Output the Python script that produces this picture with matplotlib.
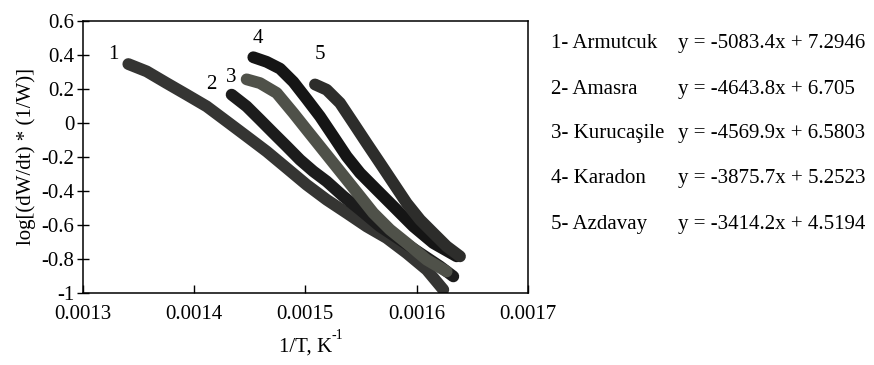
import matplotlib.pyplot as plt

# 1/T (K^-1) and log[(dW/dt)*(1/W)] traced along each coal's band
x1 = [0.001341, 0.0013575, 0.0013754, 0.0013934, 0.0014114, 0.0014294, 0.0014473, 0.0014653,
      0.0014833, 0.0015012, 0.0015192, 0.0015372, 0.0015551, 0.0015731, 0.0015911, 0.0016091, 0.001624]
y1 = [0.345, 0.302, 0.233, 0.165, 0.096, 0.008, -0.080, -0.169,
      -0.267, -0.365, -0.453, -0.531, -0.610, -0.678, -0.767, -0.865, -0.982]

x2 = [0.0014338, 0.0014473, 0.0014593, 0.0014713, 0.0014833, 0.0014952, 0.0015072, 0.0015192,
      0.0015342, 0.0015492, 0.0015671, 0.0015851, 0.0016031, 0.001621, 0.001633]
y2 = [0.165, 0.096, 0.018, -0.061, -0.139, -0.218, -0.286, -0.345,
      -0.433, -0.512, -0.610, -0.688, -0.767, -0.845, -0.904]

x3 = [0.0014473, 0.0014593, 0.0014743, 0.0014893, 0.0015012, 0.0015132, 0.0015252, 0.0015372,
      0.0015492, 0.0015611, 0.0015761, 0.0015911, 0.0016091, 0.001627]
y3 = [0.255, 0.233, 0.175, 0.057, -0.041, -0.139, -0.237, -0.335,
      -0.433, -0.531, -0.629, -0.708, -0.806, -0.875]

x4 = [0.0014533, 0.0014653, 0.0014773, 0.0014893, 0.0015012, 0.0015132, 0.0015252, 0.0015372,
      0.0015492, 0.0015641, 0.0015791, 0.0015971, 0.001615, 0.001636]
y4 = [0.385, 0.358, 0.318, 0.240, 0.140, 0.037, -0.080, -0.198,
      -0.296, -0.394, -0.492, -0.610, -0.708, -0.786]

x5 = [0.0015087, 0.0015192, 0.0015312, 0.0015432, 0.0015551, 0.0015671, 0.0015791, 0.0015911,
      0.0016031, 0.001615, 0.001627, 0.001639]
y5 = [0.225, 0.194, 0.116, -0.002, -0.120, -0.237, -0.355, -0.473,
      -0.571, -0.649, -0.727, -0.786]

names = ["1- Armutcuk", "2- Amasra", "3- Kurucaşile", "4- Karadon", "5- Azdavay"]
equations = ["y = -5083.4x + 7.2946", "y = -4643.8x + 6.705", "y = -4569.9x + 6.5803",
             "y = -3875.7x + 5.2523", "y = -3414.2x + 4.5194"]
label_x = [0.0013275, 0.0014159, 0.0014338, 0.001457, 0.0015132]
label_y = [0.40, 0.224, 0.263, 0.498, 0.40]

plt.rcParams['font.family'] = ['Liberation Serif', 'DejaVu Serif']

fs = 15

fig = plt.figure(figsize=(8.74, 3.65), dpi=100)
ax = fig.add_axes([0.0946, 0.198, 0.5094, 0.7453])

series = [(x1, y1, '#353533'), (x2, y2, '#1c1c1c'), (x4, y4, '#151515'),
          (x3, y3, '#4f5149'), (x5, y5, '#2d2d2b')]
for xs, ys, c in series:
    ax.plot(xs, ys, color=c, lw=8.5, solid_capstyle='round', solid_joinstyle='round')

for i in range(5):
    ax.text(label_x[i], label_y[i], str(i + 1), fontsize=fs, ha='center', va='center')

ax.set_xlim(0.0013, 0.0017)
ax.set_ylim(-1, 0.6)
ax.set_xticks([0.0013, 0.0014, 0.0015, 0.0016, 0.0017])
ax.set_xticklabels(["0.0013", "0.0014", "0.0015", "0.0016", "0.0017"])
ax.set_yticks([-1, -0.8, -0.6, -0.4, -0.2, 0, 0.2, 0.4, 0.6])
ax.set_yticklabels(["-1", "-0.8", "-0.6", "-0.4", "-0.2", "0", "0.2", "0.4", "0.6"])
ax.tick_params(axis='x', direction='in', length=6, width=1, labelsize=fs, pad=8.5)
ax.tick_params(axis='y', direction='inout', length=9, width=1, labelsize=fs, pad=1.5)
for s in ax.spines.values():
    s.set_linewidth(1.1)

# x label with a small raised "-1" after the K
xl = ax.set_xlabel("1/T, K", fontsize=fs, labelpad=10)
ax.annotate("-1", xy=(1.0, 0.78), xycoords=xl, fontsize=10, ha='left', va='bottom')
ax.set_ylabel("log[(dW/dt) * (1/W)]", fontsize=fs, labelpad=4)

row_y = [0.880, 0.756, 0.633, 0.510, 0.386]
for i in range(5):
    fig.text(0.630, row_y[i], names[i], fontsize=fs, va='center')
    fig.text(0.776, row_y[i], equations[i], fontsize=fs, va='center')

fig.savefig("out.png", dpi=100)
